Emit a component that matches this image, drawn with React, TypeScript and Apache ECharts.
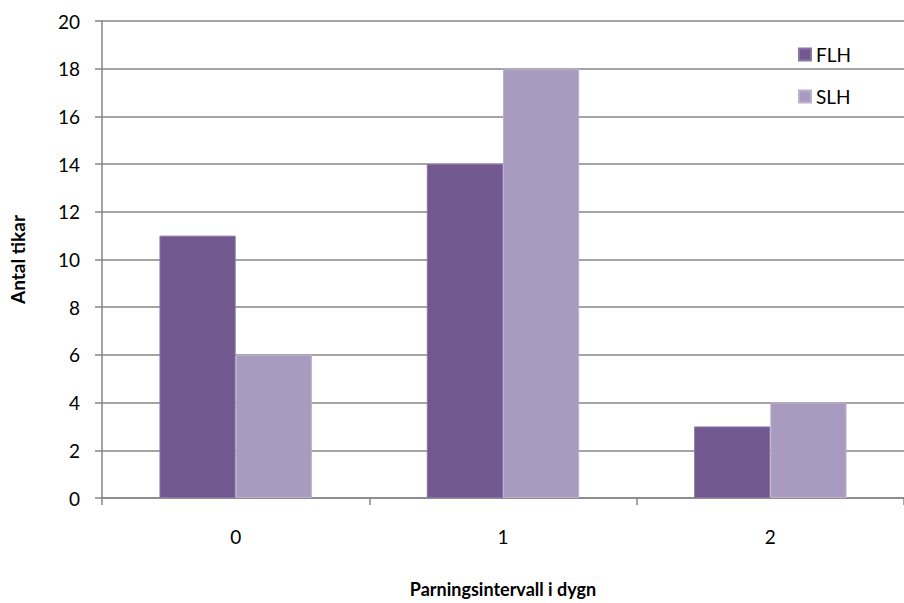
import React, { useEffect, useRef } from "react";
import * as echarts from "echarts";

const categories = ["0", "1", "2"];
const flhValues = [11, 14, 3];
const slhValues = [6, 18, 4];
const seriesNames = ["FLH", "SLH"];
const yTitle = "Antal tikar";
const xTitle = "Parningsintervall i dygn";

export default function App() {
  const ref = useRef<HTMLDivElement>(null);
  useEffect(() => {
    if (!ref.current) return;
    const chart = echarts.init(ref.current, null, { renderer: "svg" });
    const font = "Lato, 'Liberation Sans', sans-serif";
    chart.setOption({
      animation: false,
      backgroundColor: "#ffffff",
      textStyle: { fontFamily: font },
      grid: { left: 93, top: 21, width: 820, height: 489, containLabel: false },
      legend: {
        orient: "vertical",
        left: 793,
        top: 40,
        itemWidth: 12,
        itemHeight: 12,
        itemGap: 23,
        itemTextGap: 6,
        icon: "rect",
        textStyle: { fontSize: 19, color: "#000", fontFamily: font },
        data: seriesNames,
      },
      xAxis: {
        type: "category",
        data: categories,
        name: xTitle,
        nameLocation: "middle",
        nameGap: 82,
        nameTextStyle: { fontSize: 18, fontWeight: "bold", color: "#000", fontFamily: font },
        axisLine: { lineStyle: { color: "#868686", width: 1.5 } },
        axisTick: { show: true, length: 7, lineStyle: { color: "#868686", width: 1.5 } },
        axisLabel: { fontSize: 19, color: "#000", margin: 29, fontFamily: font },
      },
      yAxis: {
        type: "value",
        min: 0,
        max: 20,
        interval: 2,
        name: yTitle,
        nameLocation: "middle",
        nameGap: 75,
        nameRotate: 90,
        nameTextStyle: { fontSize: 19, fontWeight: "bold", color: "#000", fontFamily: font },
        axisLine: { show: true, lineStyle: { color: "#868686", width: 1.5 } },
        axisTick: { show: true, length: 7, lineStyle: { color: "#868686", width: 1.5 } },
        axisLabel: { fontSize: 19, color: "#000", margin: 22, fontFamily: font },
        splitLine: { lineStyle: { color: "#868686", width: 1.5 } },
      },
      series: [
        {
          name: seriesNames[0],
          type: "bar",
          data: flhValues,
          barGap: "0%",
          barCategoryGap: "43%",
          itemStyle: { color: "#71588F", borderColor: "#8A74A6", borderWidth: 1 },
        },
        {
          name: seriesNames[1],
          type: "bar",
          data: slhValues,
          barGap: "0%",
          barCategoryGap: "43%",
          itemStyle: { color: "#A99BBF", borderColor: "#BCB0CE", borderWidth: 1 },
        },
      ],
    });
    return () => chart.dispose();
  }, []);
  return (
    <div
      ref={ref}
      style={{ position: "fixed", left: 0, top: 0, width: 904, height: 603, background: "#fff" }}
    />
  );
}
